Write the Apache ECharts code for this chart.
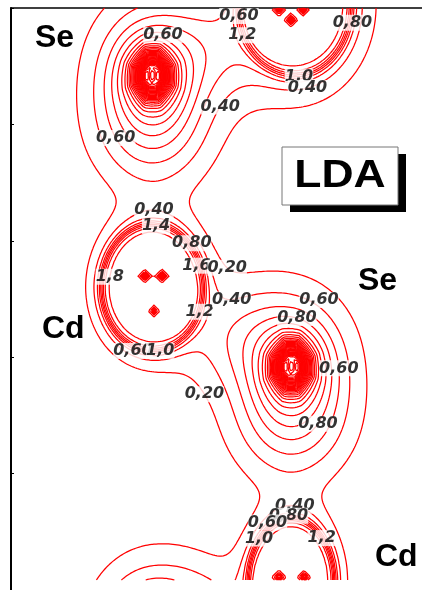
<!DOCTYPE html>
<html>
<head>
<meta charset="utf-8">
<script src="https://cdn.jsdelivr.net/npm/echarts@6/dist/echarts.min.js"></script>
<style>
  html, body { margin: 0; padding: 0; background: #fff; }
  #chart { width: 422px; height: 590px; }
</style>
</head>
<body>
<div id="chart"></div>
<script>
// Valence charge density of a CdSe zigzag chain (LDA), drawn as a contour map.
// Atom sites in plot units (one unit = one y-axis tick interval).
const cdX = [2.43, 1.21, 2.40];
const cdY = [5.02, 2.60, 0.07];
const cdAx = [0.50, 0.45, 0.38];   // shell semi-axes
const cdAy = [0.62, 0.56, 0.56];
const cdDecay = [0.35, 0.25, 0.25]; // decay of the shell tail
const seX = [1.21, 2.40, 1.21, 2.40];
const seY = [4.42, 1.92, -0.40, 6.92];

// Se–Cd bonds (indices into the atom lists) and their bond charge
const bondSe = [0, 1, 3, 0, 1, 2];
const bondCd = [1, 2, 0, 0, 1, 2];
const bondAmp = [0.48, 0.48, 0.48, 0.32, 0.32, 0.32];
const bondPos = [0.28, 0.28, 0.28, 0.40, 0.40, 0.40];
const bondAlong = [0.47, 0.47, 0.47, 0.36, 0.36, 0.36];
const bondAcross = [0.325, 0.325, 0.325, 0.317, 0.317, 0.317];

// Small density maxima inside the Cd shells
const peakX = [1.147, 1.293, 1.224, 2.295, 2.500, 2.397, 2.295, 2.509];
const peakY = [2.697, 2.697, 2.397, 4.983, 4.983, 4.897, 0.111, 0.111];
const peakAmp = [3.5, 3.5, 2.0, 2.5, 2.5, 3.5, 3.5, 3.5];

// Contour values
const contourLevels = [0.2, 0.4, 0.6, 0.8, 1.0, 1.2, 1.4, 1.6, 1.8, 2.0,
  2.2, 2.4, 2.6, 2.8, 3.0, 3.2, 3.4, 3.6, 3.8, 4.0,
  4.2, 4.4, 4.6, 4.8, 5.0, 5.2, 5.4, 5.6, 5.8, 6.0,
  6.2, 6.4, 6.6, 6.8, 7.0, 7.2, 7.4, 7.6, 7.8, 8.0];

// Contour labels: the level each one names and its approximate place
const labelLevel = [0.6, 0.6, 0.4, 0.6, 1.2, 0.8, 1.0, 0.4, 0.4, 1.4, 0.8, 1.6, 0.2, 1.8,
  1.2, 0.4, 0.6, 1.0, 0.2, 0.6, 0.8, 0.6, 0.8, 0.4, 0.8, 0.6, 1.0, 1.2];
const labelX = [1.301, 0.950, 1.747, 1.952, 2.063, 2.842, 2.457, 2.526, 1.233, 1.241, 1.558, 1.584, 1.858, 0.899,
  1.601, 1.892, 1.002, 1.293, 1.729, 2.637, 2.457, 2.688, 2.594, 2.457, 2.380, 2.158, 2.106, 2.697];
const labelY = [4.769, 3.913, 4.187, 4.932, 4.786, 4.897, 4.461, 4.332, 3.313, 3.091, 2.988, 2.783, 2.783, 2.680,
  2.389, 2.389, 1.978, 1.978, 1.721, 2.491, 2.389, 1.892, 1.447, 0.839, 0.693, 0.634, 0.454, 0.471];

// ---- density model -------------------------------------------------------
const cdRadius = 0.95, cdWall = 0.042, cdShell = 1.15, cdTail = 0.7;
const seValence = 3.55, seDecay = 0.214, seStretch = 1.25;
const seCoreAmp = 5.0, seCoreRx = 0.115, seCoreRy = 0.155;
const seHoleAmp = 3.0, seHoleRx = 0.043, seHoleRy = 0.068;
const peakWidth = 0.018;

const bonds = bondSe.map((s, k) => {
  const sx = seX[s], sy = seY[s], cx = cdX[bondCd[k]], cy = cdY[bondCd[k]];
  const bx = cx - sx, by = cy - sy, len = Math.hypot(bx, by);
  return { mx: sx + bx * bondPos[k], my: sy + by * bondPos[k], ux: bx / len, uy: by / len,
    amp: bondAmp[k], ia: 1 / (bondAlong[k] * bondAlong[k]), ic: 1 / (2 * bondAcross[k] * bondAcross[k]) };
});

function density(x, y) {
  let s = 0;
  for (let i = 0; i < cdX.length; i++) {
    const u = (x - cdX[i]) / cdAx[i], v = (y - cdY[i]) / cdAy[i];
    const r = Math.sqrt(u * u + v * v);
    s += cdShell / (1 + Math.exp((r - cdRadius) / cdWall));
    s += cdTail * Math.exp(-Math.max(0, r - cdRadius) / cdDecay[i]);
  }
  for (let i = 0; i < seX.length; i++) {
    const dx = x - seX[i], dy = y - seY[i];
    s += seValence * Math.exp(-Math.hypot(dx, dy / seStretch) / seDecay);
    const u = Math.abs(dx) / seCoreRx, v = Math.abs(dy) / seCoreRy;
    const n = Math.max(u, v, (u + v) / 1.35);
    s += seCoreAmp * Math.exp(-n * n);
    const hu = dx / seHoleRx, hv = dy / seHoleRy;
    s -= seHoleAmp * Math.exp(-(hu * hu + hv * hv));
  }
  for (const b of bonds) {
    const px = x - b.mx, py = y - b.my;
    const a = px * b.ux + py * b.uy, c = -px * b.uy + py * b.ux;
    s += b.amp * Math.exp(-a * a * b.ia - c * c * b.ic);
  }
  for (let i = 0; i < peakX.length; i++) {
    s += peakAmp[i] * Math.exp(-(Math.abs(x - peakX[i]) + Math.abs(y - peakY[i])) / peakWidth);
  }
  return s;
}

// ---- sample the field ----------------------------------------------------
const gx0 = 0, gx1 = 3.6, gy0 = 0.086, gy1 = 5.0, step = 0.018;
const nx = Math.round((gx1 - gx0) / step) + 1;
const ny = Math.round((gy1 - gy0) / step) + 1;
const dyStep = (gy1 - gy0) / (ny - 1);
const F = new Float64Array(nx * ny);
for (let j = 0; j < ny; j++) {
  for (let i = 0; i < nx; i++) F[j * nx + i] = density(gx0 + i * step, gy0 + j * dyStep);
}

// ---- marching squares, joined into polylines -----------------------------
function traceLevel(L) {
  const pos = new Map(), adj = new Map();
  const link = (a, b) => {
    if (!adj.has(a)) adj.set(a, []);
    if (!adj.has(b)) adj.set(b, []);
    adj.get(a).push(b); adj.get(b).push(a);
  };
  const hEdge = (i, j) => {
    const id = (j * nx + i) * 2;
    if (!pos.has(id)) {
      const va = F[j * nx + i], vb = F[j * nx + i + 1];
      const t = (L - va) / (vb - va);
      pos.set(id, [gx0 + (i + t) * step, gy0 + j * dyStep]);
    }
    return id;
  };
  const vEdge = (i, j) => {
    const id = (j * nx + i) * 2 + 1;
    if (!pos.has(id)) {
      const va = F[j * nx + i], vb = F[(j + 1) * nx + i];
      const t = (L - va) / (vb - va);
      pos.set(id, [gx0 + i * step, gy0 + (j + t) * dyStep]);
    }
    return id;
  };
  for (let j = 0; j < ny - 1; j++) {
    for (let i = 0; i < nx - 1; i++) {
      const fa = F[j * nx + i], fb = F[j * nx + i + 1];
      const fc = F[(j + 1) * nx + i + 1], fd = F[(j + 1) * nx + i];
      const a = fa >= L, b = fb >= L, c = fc >= L, d = fd >= L;
      const code = (a ? 1 : 0) | (b ? 2 : 0) | (c ? 4 : 0) | (d ? 8 : 0);
      if (code === 0 || code === 15) continue;
      const B = a !== b ? hEdge(i, j) : -1;
      const R = b !== c ? vEdge(i + 1, j) : -1;
      const T = d !== c ? hEdge(i, j + 1) : -1;
      const Le = a !== d ? vEdge(i, j) : -1;
      if (code === 5 || code === 10) {
        const centre = (fa + fb + fc + fd) / 4 >= L;
        if ((code === 5) === centre) { link(B, R); link(T, Le); }
        else { link(B, Le); link(R, T); }
      } else {
        const e = [B, R, T, Le].filter(v => v >= 0);
        link(e[0], e[1]);
      }
    }
  }
  const used = new Set(), paths = [];
  const walk = start => {
    const path = [start];
    used.add(start);
    let cur = start;
    for (;;) {
      const nb = adj.get(cur);
      let next = -1;
      for (const n of nb) if (!used.has(n)) { next = n; break; }
      if (next < 0) {
        if (path.length > 2 && nb.includes(start)) path.push(start);
        break;
      }
      used.add(next); path.push(next); cur = next;
    }
    return path.map(id => pos.get(id));
  };
  for (const [id, nb] of adj) if (nb.length === 1 && !used.has(id)) paths.push(walk(id));
  for (const [id] of adj) if (!used.has(id)) paths.push(walk(id));
  return paths;
}

const levelPaths = contourLevels.map(traceLevel);
const lineData = [];
levelPaths.forEach(paths => paths.forEach(p => { if (p.length > 1) lineData.push({ coords: p }); }));

// Put each label on the nearest stretch of its own contour
function placeLabel(k) {
  const li = contourLevels.findIndex(v => Math.abs(v - labelLevel[k]) < 1e-9);
  let best = null, bd = 0.12;
  for (const p of levelPaths[li]) {
    for (const q of p) {
      const d = Math.hypot(q[0] - labelX[k], q[1] - labelY[k]);
      if (d < bd) { bd = d; best = q; }
    }
  }
  return best ? best.slice() : [labelX[k], labelY[k]];
}
const fmt = v => (v < 1 ? v.toFixed(2) : v.toFixed(1)).replace('.', ',');
const labelData = labelLevel.map((v, k) => ({ value: placeLabel(k), name: fmt(v) }));

// ---- chart ---------------------------------------------------------------
const chart = echarts.init(document.getElementById('chart'), null, { renderer: 'canvas' });
const atomFont = 'bold 32px "Liberation Sans", Arial, sans-serif';
chart.setOption({
  animation: false,
  backgroundColor: '#fff',
  grid: { left: 11, right: 0, top: 8, height: 584 },
  xAxis: {
    type: 'value', min: 0, max: 3.519, position: 'top',
    axisLine: { show: true, onZero: false, lineStyle: { color: '#000', width: 1.5 } },
    axisTick: { show: false }, axisLabel: { show: false }, splitLine: { show: false }
  },
  yAxis: {
    type: 'value', min: 0, max: 5, interval: 1,
    axisLine: { show: true, onZero: false, lineStyle: { color: '#000', width: 2 } },
    axisTick: { show: true, inside: true, length: 3, lineStyle: { color: '#000', width: 1 } },
    axisLabel: { show: false }, splitLine: { show: false }
  },
  series: [
    {
      type: 'lines', coordinateSystem: 'cartesian2d', polyline: true, silent: true,
      lineStyle: { color: '#ff0000', width: 1.25, opacity: 1 },
      data: lineData, z: 2
    },
    {
      type: 'scatter', silent: true, symbolSize: 1,
      itemStyle: { color: 'rgba(0,0,0,0)' },
      label: {
        show: true, position: 'inside', formatter: '{b}',
        fontFamily: '"DejaVu Sans", sans-serif', fontWeight: 'bold', fontStyle: 'italic',
        fontSize: 16, color: '#000', backgroundColor: '#fff', padding: [0, 0]
      },
      data: labelData, z: 5
    }
  ],
  graphic: [
    { type: 'text', left: 35, top: 22, style: { text: 'Se', font: atomFont, fill: '#000' }, z: 10 },
    { type: 'text', left: 42, top: 313, style: { text: 'Cd', font: atomFont, fill: '#000' }, z: 10 },
    { type: 'text', left: 358, top: 265, style: { text: 'Se', font: atomFont, fill: '#000' }, z: 10 },
    { type: 'text', left: 375, top: 541, style: { text: 'Cd', font: atomFont, fill: '#000' }, z: 10 },
    { type: 'rect', shape: { x: 290, y: 154, width: 116, height: 58 }, style: { fill: '#000' }, z: 10 },
    { type: 'rect', shape: { x: 282, y: 147, width: 116, height: 58 }, style: { fill: '#fff', stroke: '#777', lineWidth: 1 }, z: 11 },
    { type: 'text', x: 340, y: 177, scaleX: 1.17, originX: 0,
      style: { text: 'LDA', font: 'bold 38px "Liberation Sans", Arial, sans-serif', fill: '#000', align: 'center', verticalAlign: 'middle' }, z: 12 }
  ]
});
</script>
</body>
</html>
